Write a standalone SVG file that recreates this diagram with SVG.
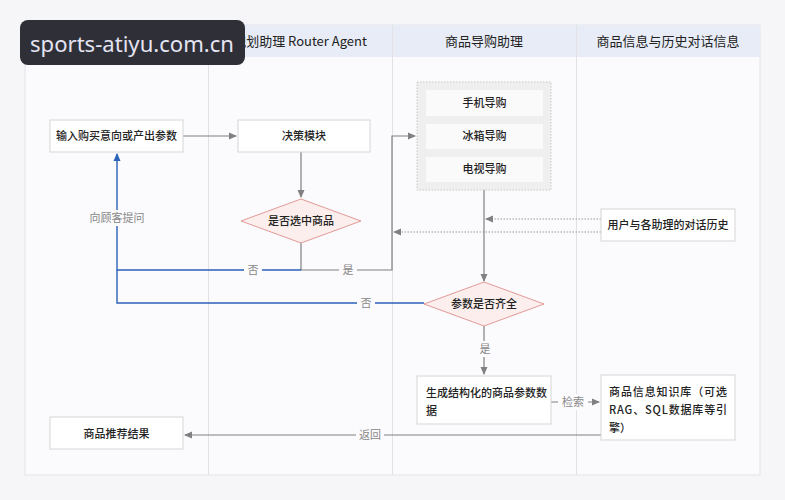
<svg xmlns="http://www.w3.org/2000/svg" width="785" height="500" viewBox="0 0 785 500">
<style>
.t{font-family:"Noto Sans CJK SC","Liberation Sans",sans-serif;fill:#222;font-size:11px;font-weight:500}
.h{font-family:"Noto Sans CJK SC","Liberation Sans",sans-serif;fill:#222;font-size:13px}
.lab{font-family:"Noto Sans CJK SC","Liberation Sans",sans-serif;fill:#888;font-size:11px}
.box{fill:#fff;stroke:#d6d6d6;stroke-width:1}
.dia{fill:#fbeeec;stroke:#e29a98;stroke-width:1}
.g{fill:none;stroke:#808080;stroke-width:1.2}
.b{fill:none;stroke:#2a62b8;stroke-width:1.4}
.d{fill:none;stroke:#9a9a9a;stroke-width:1;stroke-dasharray:1.5 1.5}
.lbg{fill:#fbfafc}
</style>
<defs>
<marker id="ag" markerWidth="8" markerHeight="8" refX="7" refY="4" orient="auto" markerUnits="userSpaceOnUse"><path d="M0,0.5 L8,4 L0,7.5 Z" fill="#808080"/></marker>
<marker id="ab" markerWidth="8" markerHeight="8" refX="7" refY="4" orient="auto" markerUnits="userSpaceOnUse"><path d="M0,0.5 L8,4 L0,7.5 Z" fill="#2a62b8"/></marker>
</defs>
<rect x="0" y="0" width="785" height="500" fill="#f6f5f8"/>
<g id="lanes">
<rect x="25" y="25" width="735" height="450" fill="#fbfafc" stroke="#e4e3e8"/>
<rect x="25" y="25" width="735" height="32" fill="#e7ecf6"/>
<line x1="208.5" y1="25" x2="208.5" y2="475" stroke="#e2e1e6"/>
<line x1="392.5" y1="25" x2="392.5" y2="475" stroke="#e2e1e6"/>
<line x1="576.5" y1="25" x2="576.5" y2="475" stroke="#e2e1e6"/>
<text class="h" x="300" y="46" text-anchor="middle">规划助理 Router Agent</text>
<text class="h" x="484" y="46" text-anchor="middle">商品导购助理</text>
<text class="h" x="668" y="46" text-anchor="middle">商品信息与历史对话信息</text>
</g>
<g id="connectors">
<path class="g" d="M183,136 H236" marker-end="url(#ag)"/>
<path class="g" d="M301,152 V197" marker-end="url(#ag)"/>
<path class="g" d="M301,243 V270 H392 V136 H415" marker-end="url(#ag)"/>
<path class="b" d="M301,270 H117 V154" marker-end="url(#ab)"/>
<path class="b" d="M424,303 H117 V270"/>
<path class="g" d="M484,190 V281" marker-end="url(#ag)"/>
<path class="d" d="M601,219 H486" marker-end="url(#ag)"/>
<path class="d" d="M601,232 H394" marker-end="url(#ag)"/>
<path class="g" d="M484,326 V374" marker-end="url(#ag)"/>
<path class="g" d="M551,402 H599" marker-end="url(#ag)"/>
<path class="g" d="M601,435 H185" marker-end="url(#ag)"/>
<rect class="lbg" x="244" y="262" width="18" height="16"/>
<text class="lab" x="253" y="274" text-anchor="middle">否</text>
<rect class="lbg" x="339" y="262" width="18" height="16"/>
<text class="lab" x="348" y="274" text-anchor="middle">是</text>
<rect class="lbg" x="88" y="210" width="58" height="16"/>
<text class="lab" x="117" y="222" text-anchor="middle">向顾客提问</text>
<rect class="lbg" x="357" y="295" width="18" height="16"/>
<text class="lab" x="366" y="307" text-anchor="middle">否</text>
<rect class="lbg" x="476" y="341" width="18" height="16"/>
<text class="lab" x="485" y="353" text-anchor="middle">是</text>
<rect class="lbg" x="558" y="394" width="30" height="16"/>
<text class="lab" x="573" y="406" text-anchor="middle">检索</text>
<rect class="lbg" x="356" y="427" width="28" height="16"/>
<text class="lab" x="370" y="439" text-anchor="middle">返回</text>
</g>
<g id="n-input"><rect class="box" x="50" y="120" width="133" height="32"/><text class="t" x="116.5" y="140" text-anchor="middle">输入购买意向或产出参数</text></g>
<g id="n-decide"><rect class="box" x="238" y="120" width="132" height="32"/><text class="t" x="304" y="140" text-anchor="middle">决策模块</text></g>
<g id="n-select"><path class="dia" d="M301,199 L361,221 L301,243 L241,221 Z"/><text class="t" x="301" y="225" text-anchor="middle">是否选中商品</text></g>
<g id="n-group">
<rect x="417" y="82" width="134" height="108" fill="#efefef" stroke="#c8c8c8" stroke-dasharray="1.5 1.5"/>
<rect x="426" y="90" width="117" height="26" fill="#fafafa"/><text class="t" x="484.5" y="107" text-anchor="middle">手机导购</text>
<rect x="426" y="124" width="117" height="25" fill="#fafafa"/><text class="t" x="484.5" y="140" text-anchor="middle">冰箱导购</text>
<rect x="426" y="157" width="117" height="25" fill="#fafafa"/><text class="t" x="484.5" y="173" text-anchor="middle">电视导购</text>
</g>
<g id="n-history"><rect class="box" x="601" y="209" width="134" height="32"/><text class="t" x="668" y="229" text-anchor="middle">用户与各助理的对话历史</text></g>
<g id="n-params"><path class="dia" d="M484,282 L544,304 L484,326 L424,304 Z"/><text class="t" x="484" y="308" text-anchor="middle">参数是否齐全</text></g>
<g id="n-gen"><rect class="box" x="417" y="376" width="134" height="48"/><text class="t" x="426" y="397">生成结构化的商品参数数</text><text class="t" x="426" y="415">据</text></g>
<g id="n-kb"><rect class="box" x="601" y="375" width="134" height="65"/>
<text class="t" x="609" y="396" textLength="118" lengthAdjust="spacing">商品信息知识库（可选</text>
<text class="t" x="609" y="414" textLength="118" lengthAdjust="spacing">RAG、SQL数据库等引</text>
<text class="t" x="609" y="432">擎）</text></g>
<g id="n-result"><rect class="box" x="50" y="417" width="133" height="32"/><text class="t" x="116.5" y="438" text-anchor="middle">商品推荐结果</text></g>
<g id="watermark"><rect x="20" y="20" width="225" height="45" rx="8" fill="#2f2f38"/><text x="30" y="52" font-family="'Noto Sans','DejaVu Sans',sans-serif" font-size="22" fill="#e4e4f2" textLength="204" lengthAdjust="spacingAndGlyphs">sports-atiyu.com.cn</text></g>
</svg>
